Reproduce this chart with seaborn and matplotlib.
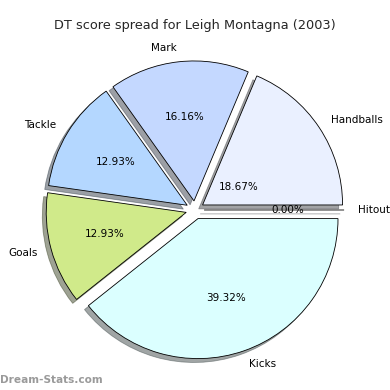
import matplotlib
matplotlib.use("Agg")
import matplotlib.pyplot as plt
import seaborn as sns
import numpy as np

sns.set_style("white")
plt.rcParams['font.family'] = ['DejaVu Sans']

categories = ["Handballs", "Mark", "Tackle", "Goals", "Kicks", "Hitout"]
shares = [18.67, 16.16, 12.93, 12.93, 39.32, 0.00]
colors = ["#EAF0FF", "#C4D8FF", "#B4D7FF", "#D0EA8A", "#DBFFFF", "#EAF0FF"]
title = "DT score spread for Leigh Montagna (2003)"

fig = plt.figure(figsize=(3.9, 3.9), dpi=100)
ax = fig.add_axes([20/390, 5/390, 350/390, 350/390])

wedges, texts, autotexts = ax.pie(
    shares, labels=categories, colors=colors, explode=[0.065]*len(shares),
    autopct="%.2f%%", startangle=0, counterclock=True, shadow=True,
    pctdistance=0.6, labeldistance=1.1,
    wedgeprops=dict(edgecolor="black", linewidth=0.6),
    textprops=dict(fontsize=7.5, color="black"),
)
# Handballs percentage label sits closer to the centre in the original
x, y = autotexts[0].get_position()
autotexts[0].set_position((x * 0.56, y * 0.45))

ax.set_xlim(-1.25, 1.25)
ax.set_ylim(-1.25, 1.25)
ax.set_aspect("equal")

fig.text(0.5, 1 - 25/390, title, ha="center", va="center", fontsize=9.3)
fig.text(0.0, 1 - 380/390, "Dream-Stats.com", ha="left", va="center",
         fontsize=7.6, color="#9a9a9a", fontweight="bold")

fig.savefig("out.png", dpi=100, facecolor="white")
